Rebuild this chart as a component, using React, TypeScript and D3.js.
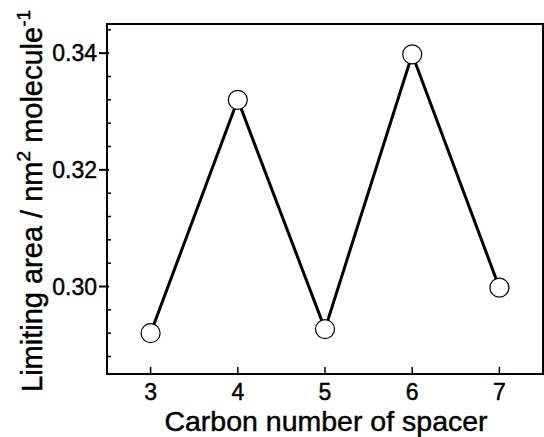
import React from "react";
import * as d3 from "d3";

const carbonNumbers = [3, 4, 5, 6, 7];
const limitingArea = [0.292, 0.332, 0.2927, 0.3398, 0.2998];
const yMajorTicks = [0.3, 0.32, 0.34];
const yMinorTicks = [0.288, 0.292, 0.296, 0.304, 0.308, 0.312, 0.316, 0.324, 0.328, 0.332, 0.336, 0.344];
const xTicks = [3, 4, 5, 6, 7];

const W = 544;
const H = 437;
const M = { left: 107, right: 543, top: 24, bottom: 374 };
const FONT = "'Liberation Sans', Arial, Helvetica, sans-serif";

export default function App() {
  const x = d3.scaleLinear().domain([2.5, 7.5]).range([M.left, M.right]);
  const y = d3.scaleLinear().domain([0.285, 0.345]).range([M.bottom, M.top]);
  const line = d3
    .line<number>()
    .x((_, i) => x(carbonNumbers[i]))
    .y((d) => y(d));

  const textStroke = { stroke: "#000", strokeWidth: 0.45 };

  return (
    <svg
      width={W}
      height={H}
      style={{ position: "absolute", left: 0, top: 0, background: "#fff" }}
      fontFamily={FONT}
    >
      <rect x={0} y={0} width={W} height={H} fill="#fff" />
      {/* frame */}
      <rect
        x={M.left}
        y={M.top}
        width={M.right - M.left}
        height={M.bottom - M.top}
        fill="none"
        stroke="#000"
        strokeWidth={2}
      />
      {/* y major ticks (outward) */}
      {yMajorTicks.map((t) => (
        <g key={"ym" + t}>
          <line x1={M.left - 8} x2={M.left + 2} y1={y(t)} y2={y(t)} stroke="#000" strokeWidth={2} />
          <text
            x={97}
            y={y(t)}
            dy="0.36em"
            textAnchor="end"
            fontSize={23}
            fill="#000"
            {...textStroke}
          >
            {t.toFixed(2)}
          </text>
        </g>
      ))}
      {/* y minor ticks (inward) */}
      {yMinorTicks.map((t) => (
        <line key={"yn" + t} x1={M.left} x2={M.left + 4} y1={y(t)} y2={y(t)} stroke="#000" strokeWidth={1.5} />
      ))}
      {/* x ticks */}
      {xTicks.map((t) => (
        <g key={"x" + t}>
          <line x1={x(t)} x2={x(t)} y1={M.bottom} y2={M.bottom - 7} stroke="#000" strokeWidth={1.5} />
          <text x={x(t)} y={400} textAnchor="middle" fontSize={23} fill="#000" {...textStroke}>
            {t}
          </text>
        </g>
      ))}
      {/* data line */}
      <path d={line(limitingArea) || ""} fill="none" stroke="#000" strokeWidth={3} strokeLinejoin="miter" />
      {limitingArea.map((v, i) => (
        <circle key={i} cx={x(carbonNumbers[i])} cy={y(v)} r={9.5} fill="#fff" stroke="#000" strokeWidth={1.2} />
      ))}
      {/* x title */}
      <text x={(M.left + M.right) / 2 + 1} y={431} textAnchor="middle" fontSize={28.5} fill="#000" {...textStroke}>
        Carbon number of spacer
      </text>
      {/* y title */}
      <text transform="rotate(-90)" x={-392} y={42} textAnchor="start" fontSize={29} fill="#000" {...textStroke}>
        Limiting area / nm
        <tspan dy={-12} fontSize={19}>2</tspan>
        <tspan dy={12}> molecule</tspan>
        <tspan dy={-12} fontSize={19}>-1</tspan>
      </text>
    </svg>
  );
}
